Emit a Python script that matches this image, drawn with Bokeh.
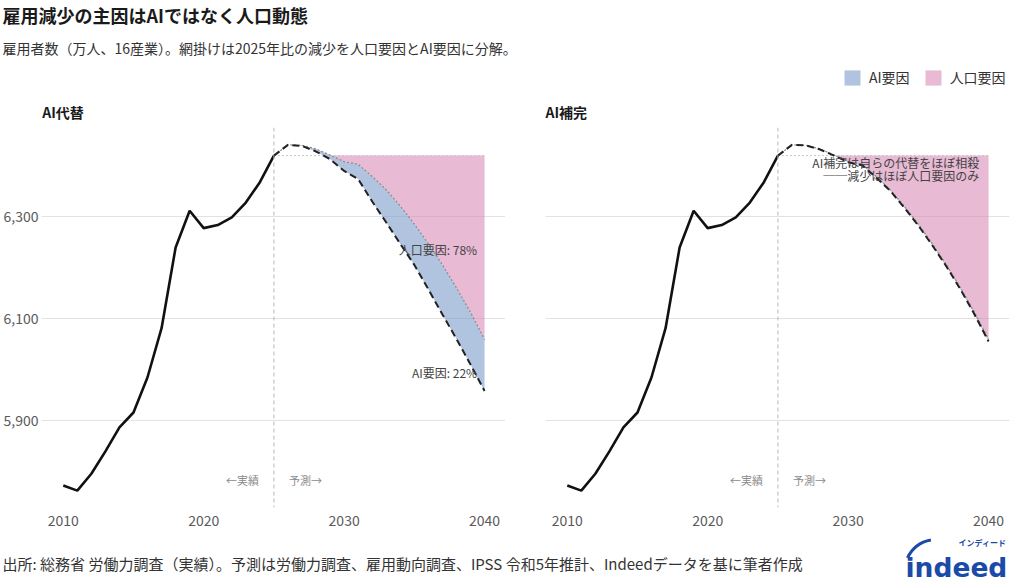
import numpy as np
from bokeh.embed import file_html
from bokeh.layouts import column, row
from bokeh.models import (ColumnDataSource, FixedTicker, Label, Legend, LegendItem,
                          NumeralTickFormatter, Range1d, Span)
from bokeh.plotting import figure
from bokeh.resources import INLINE

FONT = "Noto Sans CJK JP"
BLUE = "#7b9dcb"
PINK = "#d98cb7"

# 実績 (万人)
years_actual = [2010, 2011, 2012, 2013, 2014, 2015, 2016, 2017,
                2018, 2019, 2020, 2021, 2022, 2023, 2024, 2025]
emp_actual = [5773, 5763, 5796, 5840, 5887, 5916, 5985, 6081,
              6239, 6311, 6277, 6283, 6298, 6327, 6367, 6419]

# 予測 (2025-2040)
years_fc = [2025, 2026, 2027, 2028, 2029, 2030, 2031, 2032,
            2033, 2034, 2035, 2036, 2037, 2038, 2039, 2040]
pop_only = [6419, 6440, 6439, 6432, 6420, 6407, 6402, 6378,
            6352, 6320, 6285, 6246, 6205, 6160, 6112, 6059]
ai_sub = [6419, 6440, 6438, 6427, 6412, 6389, 6373, 6329,
          6288, 6246, 6205, 6157, 6108, 6060, 6010, 5958]
ai_comp = [6419, 6440, 6439, 6431, 6419, 6406, 6400, 6376,
           6350, 6317, 6282, 6243, 6202, 6157, 6108, 6055]

x_ticks = [2010, 2020, 2030, 2040]
y_ticks = [5900, 6100, 6300]

base = emp_actual[-1]
total_drop = base - ai_sub[-1]
pop_share = round(100 * (base - pop_only[-1]) / total_drop)
ai_share = 100 - pop_share


def make_panel(scenario, width, border_left, border_right, show_y):
    p = figure(width=width, height=405, output_backend="svg", toolbar_location=None,
               x_range=Range1d(2008.45, 2041.49), y_range=Range1d(5730, 6474),
               min_border_top=0, min_border_bottom=25,
               min_border_left=border_left, min_border_right=border_right)
    p.outline_line_color = None
    p.background_fill_color = "white"

    p.xaxis.ticker = FixedTicker(ticks=x_ticks)
    p.yaxis.ticker = FixedTicker(ticks=y_ticks)
    p.ygrid.ticker = FixedTicker(ticks=y_ticks)
    p.yaxis.formatter = NumeralTickFormatter(format="0,0")
    for ax in p.axis:
        ax.axis_line_color = None
        ax.major_tick_line_color = None
        ax.minor_tick_line_color = None
        ax.major_tick_out = 0
        ax.major_tick_in = 0
        ax.minor_tick_out = 0
        ax.major_label_text_font = FONT
        ax.major_label_text_font_size = "14px"
        ax.major_label_text_color = "#5a5a5a"
    p.xaxis.major_label_standoff = 7
    p.yaxis.major_label_standoff = 3
    p.yaxis.visible = show_y
    p.xgrid.grid_line_color = None
    p.ygrid.grid_line_color = "#e2e2e2"

    src = ColumnDataSource(dict(
        x=years_fc,
        base=[base] * len(years_fc),
        pop=pop_only,
        pop_low=np.minimum(pop_only, base),
        scen=scenario,
        scen_low=np.minimum(scenario, pop_only),
    ))

    p.varea(x="x", y1="pop_low", y2="base", source=src, fill_color=PINK, fill_alpha=0.6)
    p.varea(x="x", y1="scen_low", y2="pop", source=src, fill_color=BLUE, fill_alpha=0.6)

    p.add_layout(Span(location=years_actual[-1], dimension="height",
                      line_color="#b8b8b8", line_dash="4 3", line_width=1))
    p.line(x="x", y="base", source=src, line_color="#c6c6c6", line_dash="2 2", line_width=1)
    p.line(x="x", y="pop", source=src, line_color="#8a8a8a", line_dash="2 2", line_width=1.2)
    p.line(x="x", y="scen", source=src, line_color="#222222", line_dash="7 4", line_width=2)
    p.line(years_actual, emp_actual, line_color="#111111", line_width=2.6)

    for txt, off, align in [("←実績", -15, "right"), ("予測→", 15, "left")]:
        p.add_layout(Label(x=years_actual[-1], y=5783, x_offset=off, text=txt,
                           text_align=align, text_baseline="middle",
                           text_font=FONT, text_font_size="11px", text_color="#8a8a8a"))
    return p


def note(p, x, y, txt):
    p.add_layout(Label(x=x, y=y, text=txt, text_align="right", text_baseline="middle",
                       text_font=FONT, text_font_size="12px", text_color="#444444"))


left = make_panel(ai_sub, 505, 40, 0, True)
note(left, 2039.47, 6236, f"人口要因: {pop_share}%")
note(left, 2039.47, 5994, f"AI要因: {ai_share}%")

right = make_panel(ai_comp, 519, 40, 15, False)
note(right, 2039.33, 6406, "AI補完は自らの代替をほぼ相殺")
note(right, 2039.33, 6380, "──減少はほぼ人口要因のみ")


def blank(width, height):
    p = figure(width=width, height=height, output_backend="svg", toolbar_location=None,
               x_range=Range1d(0, width), y_range=Range1d(0, height),
               x_axis_location=None, y_axis_location=None, min_border=0)
    p.outline_line_color = None
    p.grid.visible = False
    return p


def text(p, x, y, txt, size, color="#333333", bold=False, font=FONT, baseline="middle"):
    p.add_layout(Label(x=x, y=y, text=txt, text_baseline=baseline, text_font=font,
                       text_font_size=size, text_color=color,
                       text_font_style="bold" if bold else "normal"))


header = blank(1024, 127)
text(header, 2, 113, "雇用減少の主因はAIではなく人口動態", "18px", "#1a1a1a", True)
text(header, 2, 80, "雇用者数（万人、16産業）。網掛けは2025年比の減少を人口要因とAI要因に分解。",
     "14px", "#333333")
text(header, 41.7, 15.3, "AI代替", "14px", "#1a1a1a", True)
text(header, 545, 15.3, "AI補完", "14px", "#1a1a1a", True)

# legend swatches: renderers with no drawable points
r_ai = header.varea(x=[np.nan], y1=[np.nan], y2=[np.nan], fill_color=BLUE, fill_alpha=0.6)
r_pop = header.varea(x=[np.nan], y1=[np.nan], y2=[np.nan], fill_color=PINK, fill_alpha=0.6)
legend = Legend(items=[LegendItem(label="AI要因", renderers=[r_ai]),
                       LegendItem(label="人口要因", renderers=[r_pop])],
                orientation="horizontal", location=(842, 40),
                glyph_width=20, glyph_height=19, label_standoff=7, spacing=13,
                padding=0, margin=0, border_line_color=None, background_fill_alpha=0,
                label_text_font=FONT, label_text_font_size="14px", label_text_color="#333333")
header.add_layout(legend)

footer = blank(1024, 53)
text(footer, 2, 22, "出所: 総務省 労働力調査（実績）。予測は労働力調査、雇用動向調査、IPSS 令和5年推計、Indeedデータを基に筆者作成",
     "15px", "#333333")
text(footer, 905, 18, "indeed", "26.5px", "#1b4aa8", True, "DejaVu Sans", "alphabetic")
text(footer, 958, 43, "インディード", "8px", "#1b4aa8", True)
footer.arc(x=[936], y=[14], radius=32, start_angle=np.radians(100), end_angle=np.radians(155),
           line_color="#1b4aa8", line_width=3)

layout = column(header, row(left, right), footer)
open("out.html", "w").write(file_html(layout, INLINE))
